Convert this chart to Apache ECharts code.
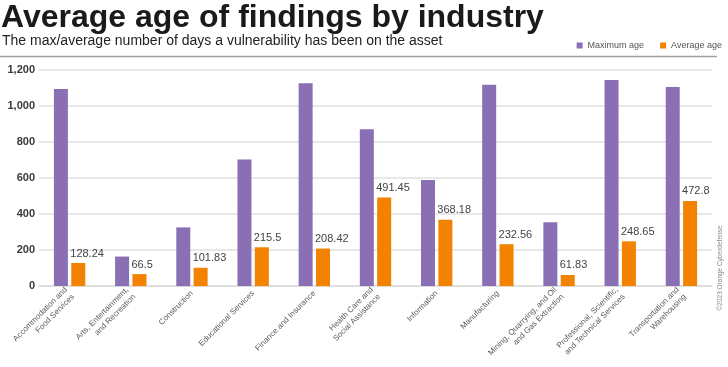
<!DOCTYPE html>
<html>
<head>
<meta charset="utf-8">
<script src="https://cdn.jsdelivr.net/npm/echarts@6/dist/echarts.min.js"></script>
<style>
  html, body { margin: 0; padding: 0; background: #ffffff; }
  #chart { width: 728px; height: 367px; }
</style>
</head>
<body>
<div id="chart"></div>
<script>
const categories = [
  'Accommodation and\nFood Services',
  'Arts, Entertainment,\nand Recreation',
  'Construction',
  'Educational Services',
  'Finance and Insurance',
  'Health Care and\nSocial Assistance',
  'Information',
  'Manufacturing',
  'Mining, Quarrying, and Oil\nand Gas Extraction',
  'Professional, Scientific,\nand Technical Services',
  'Transportation and\nWarehousing'
];
const maximumAge = [1095, 164, 326, 703, 1127, 871, 589, 1118, 355, 1145, 1106];
const averageAge = [128.24, 66.5, 101.83, 215.5, 208.42, 491.45, 368.18, 232.56, 61.83, 248.65, 472.8];
const yTicks = [0, 200, 400, 600, 800, 1000, 1200];

const FONT = '"Liberation Sans", Arial, Helvetica, sans-serif';
const chart = echarts.init(document.getElementById('chart'), null, { renderer: 'canvas' });

chart.setOption({
  animation: false,
  backgroundColor: '#ffffff',
  title: [
    {
      text: 'Average age of findings by industry',
      left: 1, top: 2, padding: 0,
      textStyle: { fontFamily: FONT, fontSize: 32, fontWeight: 'bold', color: '#1a1a1a' }
    },
    {
      text: 'The max/average number of days a vulnerability has been on the asset',
      left: 2, top: 34, padding: 0,
      textStyle: { fontFamily: FONT, fontSize: 14, fontWeight: 'normal', color: '#222222' }
    }
  ],
  legend: {
    right: 6, top: 41, padding: 0,
    icon: 'rect', itemWidth: 6, itemHeight: 6, itemGap: 16,
    textStyle: { fontFamily: FONT, fontSize: 9, color: '#555555' },
    data: ['Maximum age', 'Average age']
  },
  graphic: [
    {
      type: 'line',
      shape: { x1: 0, y1: 56.5, x2: 717, y2: 56.5 },
      style: { stroke: '#a0a0a0', lineWidth: 1.5 }
    },
    {
      type: 'text',
      x: 720.5, y: 268, rotation: Math.PI / 2,
      style: {
        text: '©2023 Orange Cyberdefense',
        fontFamily: FONT, fontSize: 6.5, fill: '#888888',
        align: 'center', verticalAlign: 'middle'
      }
    }
  ],
  grid: { left: 39, right: 16, top: 70, bottom: 77, containLabel: false },
  xAxis: {
    type: 'category',
    data: categories,
    axisLine: { show: true, lineStyle: { color: '#dcdcdc', width: 1.5 } },
    axisTick: { show: false },
    axisLabel: {
      interval: 0, rotate: 45, margin: 6,
      fontFamily: FONT, fontSize: 8, lineHeight: 10, color: '#5a5a5a'
    }
  },
  yAxis: {
    type: 'value',
    min: yTicks[0], max: yTicks[yTicks.length - 1], interval: 200,
    axisLine: { show: false },
    axisTick: { show: false },
    splitLine: { lineStyle: { color: '#e0e0e0', width: 1.5 } },
    axisLabel: {
      margin: 4, fontFamily: FONT, fontSize: 11, fontWeight: 'bold', color: '#3a3a3a',
      formatter: v => v.toLocaleString('en-US')
    }
  },
  series: [
    {
      name: 'Maximum age', type: 'bar', data: maximumAge,
      barWidth: 14, barGap: '24%',
      itemStyle: { color: '#8a6fb5' }
    },
    {
      name: 'Average age', type: 'bar', data: averageAge,
      barWidth: 14,
      itemStyle: { color: '#f28200' },
      label: {
        show: true, position: [-1, -4], verticalAlign: 'bottom', align: 'left',
        fontFamily: FONT, fontSize: 11, color: '#444444',
        formatter: p => String(p.value)
      }
    }
  ]
});
</script>
</body>
</html>
